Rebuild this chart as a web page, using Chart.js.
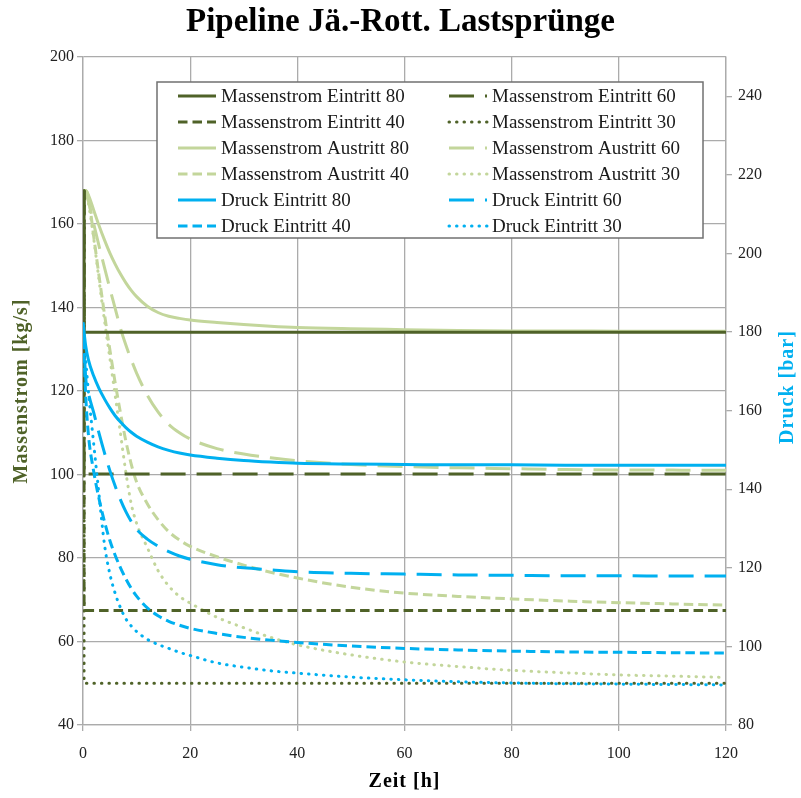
<!DOCTYPE html>
<html>
<head>
<meta charset="utf-8">
<script src="https://cdn.jsdelivr.net/npm/chart.js@4.4.0/dist/chart.umd.min.js"></script>
<style>
  html, body { margin: 0; padding: 0; background: #fff; }
  #wrap { width: 801px; height: 798px; }
</style>
</head>
<body>
<div id="wrap"><canvas id="lastspruenge"></canvas></div>
<script>
// Zeitachse [h] fuer die Austritts- und Druckkurven
const zeit = [0, 0.5, 1, 2, 3, 4, 5, 6, 7, 8, 9, 10, 12, 14, 16, 18, 20, 25, 30, 35, 40, 50, 60, 70, 80, 90, 100, 110, 120]
// Eintritt springt sofort
const zeit_sprung = [0.2, 0.2, 120]

// Massenstrom [kg/s]
const massenstrom_eintritt_80 = [168, 134.1, 134.1]
const massenstrom_eintritt_60 = [168, 100.1, 100.1]
const massenstrom_eintritt_40 = [168, 67.4, 67.4]
const massenstrom_eintritt_30 = [168, 50, 50]

const massenstrom_austritt_80 = [167.8, 168, 167, 163.3, 159.6, 156.2, 153.1, 150.4, 148, 145.9, 144.1, 142.6, 140.3, 138.8, 137.9, 137.4, 137, 136.4, 135.9, 135.5, 135.2, 134.9, 134.7, 134.5, 134.4, 134.4, 134.3, 134.3, 134.3]
const massenstrom_austritt_60 = [168, 167.3, 165.5, 160, 154.7, 149.6, 144.6, 139.8, 135, 131, 127.5, 124.3, 119, 115, 112, 110, 108.5, 106.2, 104.9, 104, 103.3, 102.4, 101.9, 101.6, 101.4, 101.2, 101.1, 101.05, 101]
const massenstrom_austritt_40 = [168, 168, 166.5, 157, 147.5, 138.5, 130, 122, 114.7, 108, 102.5, 98.2, 93, 89.2, 86.3, 84.3, 82.8, 80.3, 78.3, 76.6, 75.2, 73, 71.6, 70.8, 70.2, 69.7, 69.3, 69, 68.7]
const massenstrom_austritt_30 = [168, 167.5, 165, 156.5, 146.5, 137, 128, 119, 109.8, 100.5, 93, 88.3, 82.5, 77, 73.3, 70.8, 69.2, 65.8, 63.3, 61, 59.2, 56.8, 55.1, 54, 53.1, 52.5, 52, 51.7, 51.4]

// Druck [bar]
const druck_eintritt_80 = [182.5, 176.5, 173, 168.8, 165.6, 163, 160.7, 158.7, 157.1, 155.7, 154.5, 153.5, 152, 150.8, 149.9, 149.2, 148.7, 147.9, 147.3, 146.9, 146.6, 146.4, 146.3, 146.2, 146.2, 146.1, 146.1, 146.1, 146.1]
const druck_eintritt_60 = [182, 168.5, 164.5, 159.5, 154.2, 149.3, 144.8, 140.8, 137.3, 134.3, 131.8, 129.8, 127.3, 125.5, 124.1, 123, 122.2, 120.8, 120, 119.5, 119, 118.6, 118.4, 118.2, 118.1, 118, 118, 117.9, 117.9]
const druck_eintritt_40 = [182, 164, 154, 144.5, 137.5, 131.8, 127, 123.2, 120, 117.2, 114.8, 112.8, 109.8, 107.8, 106.4, 105.4, 104.6, 103.3, 102.3, 101.6, 101, 100.1, 99.5, 99.1, 98.8, 98.6, 98.5, 98.4, 98.3]
const druck_eintritt_30 = [182, 173, 165, 151.5, 138.5, 126, 118.5, 113.5, 109.8, 107, 105.2, 103.8, 101.8, 100.5, 99.5, 98.5, 97.7, 95.8, 94.7, 93.8, 93.2, 92.2, 91.5, 91, 90.7, 90.5, 90.4, 90.3, 90.2]

const farbe_eintritt = '#4f6228'
const farbe_austritt = '#c3d69b'
const farbe_druck = '#00b0f0'
const schrift = '"Liberation Serif", "Times New Roman", serif'
const gitter_farbe = '#ababab'

// Strichmuster je Laststufe
const strich = {
    80: [],
    60: [25, 11],
    40: [9.5, 5],
    30: [0.5, 7],
}

const mach_datensatz = (label, xs, ys, farbe, stufe, achse, reihenfolge, glatt) => ({
    label: label,
    data: xs.map((x, i) => ({x: x, y: ys[i]})),
    borderColor: farbe,
    backgroundColor: farbe,
    borderWidth: 3,
    borderDash: strich[stufe],
    borderCapStyle: stufe === 30 ? 'round' : 'butt',
    pointRadius: 0,
    pointHoverRadius: 0,
    yAxisID: achse,
    order: reihenfolge,
    tension: 0,
    cubicInterpolationMode: glatt ? 'monotone' : 'default',
})

const datensaetze = [
    mach_datensatz('Massenstrom Eintritt 80', zeit_sprung, massenstrom_eintritt_80, farbe_eintritt, 80, 'y', 2, false),
    mach_datensatz('Massenstrom Eintritt 60', zeit_sprung, massenstrom_eintritt_60, farbe_eintritt, 60, 'y', 2, false),
    mach_datensatz('Massenstrom Eintritt 40', zeit_sprung, massenstrom_eintritt_40, farbe_eintritt, 40, 'y', 2, false),
    mach_datensatz('Massenstrom Eintritt 30', zeit_sprung, massenstrom_eintritt_30, farbe_eintritt, 30, 'y', 2, false),
    mach_datensatz('Massenstrom Austritt 80', zeit, massenstrom_austritt_80, farbe_austritt, 80, 'y', 3, true),
    mach_datensatz('Massenstrom Austritt 60', zeit, massenstrom_austritt_60, farbe_austritt, 60, 'y', 3, true),
    mach_datensatz('Massenstrom Austritt 40', zeit, massenstrom_austritt_40, farbe_austritt, 40, 'y', 3, true),
    mach_datensatz('Massenstrom Austritt 30', zeit, massenstrom_austritt_30, farbe_austritt, 30, 'y', 3, true),
    mach_datensatz('Druck Eintritt 80', zeit, druck_eintritt_80, farbe_druck, 80, 'y2', 1, true),
    mach_datensatz('Druck Eintritt 60', zeit, druck_eintritt_60, farbe_druck, 60, 'y2', 1, true),
    mach_datensatz('Druck Eintritt 40', zeit, druck_eintritt_40, farbe_druck, 40, 'y2', 1, true),
    mach_datensatz('Druck Eintritt 30', zeit, druck_eintritt_30, farbe_druck, 30, 'y2', 1, true),
]

// Legende als Kasten im Diagramm, 2 Spalten
const legende_kasten = {
    id: 'legende_kasten',
    afterDatasetsDraw(chart) {
        const ctx = chart.ctx
        const ca = chart.chartArea
        const links = ca.left + 74
        const oben = ca.top + 25
        ctx.save()
        ctx.fillStyle = '#fff'
        ctx.fillRect(links, oben, 546, 156)
        ctx.strokeStyle = '#707070'
        ctx.lineWidth = 1.5
        ctx.strokeRect(links, oben, 546, 156)
        ctx.font = `19px ${schrift}`
        ctx.textBaseline = 'middle'
        ctx.fillStyle = '#1a1a1a'
        chart.data.datasets.forEach((ds, i) => {
            const spalte = i % 2
            const zeile = Math.floor(i / 2)
            const y = oben + 14 + zeile * 26
            const x0 = spalte === 0 ? links + 21 : links + 292
            ctx.save()
            ctx.strokeStyle = ds.borderColor
            ctx.lineWidth = ds.borderWidth
            ctx.lineCap = ds.borderCapStyle
            ctx.setLineDash(ds.borderDash)
            ctx.beginPath()
            ctx.moveTo(x0, y)
            ctx.lineTo(x0 + 38, y)
            ctx.stroke()
            ctx.restore()
            ctx.fillText(ds.label, x0 + 43, y + 1)
        })
        ctx.restore()
    }
}

// Achsentitel selbst zeichnen (rechts von unten nach oben gelesen)
const achsen_titel = {
    id: 'achsen_titel',
    afterDraw(chart) {
        const ctx = chart.ctx
        const ca = chart.chartArea
        const mitte_y = (ca.top + ca.bottom) / 2
        ctx.save()
        ctx.font = `bold 20px ${schrift}`
        ctx.letterSpacing = '1px'
        ctx.textAlign = 'center'
        ctx.textBaseline = 'middle'

        ctx.save()
        ctx.fillStyle = farbe_eintritt
        ctx.translate(22, mitte_y)
        ctx.rotate(-Math.PI / 2)
        ctx.fillText('Massenstrom [kg/s]', 0, 0)
        ctx.restore()

        ctx.save()
        ctx.fillStyle = farbe_druck
        ctx.translate(788, mitte_y - 4)
        ctx.rotate(-Math.PI / 2)
        ctx.fillText('Druck [bar]', 0, 0)
        ctx.restore()

        ctx.fillStyle = '#000'
        ctx.fillText('Zeit [h]', (ca.left + ca.right) / 2, 782)
        ctx.restore()
    }
}

const tick_schrift = {family: schrift, size: 16}

const config = {
    type: 'line',
    data: {
        datasets: datensaetze
    },
    options: {
        responsive: true,
        maintainAspectRatio: false,
        animation: false,
        layout: {padding: 0},
        scales: {
            x: {
                type: 'linear',
                min: 0,
                max: 120,
                ticks: {stepSize: 20, font: tick_schrift, color: '#222', padding: 13, maxRotation: 0},
                grid: {color: gitter_farbe, lineWidth: 1.3, tickLength: 6},
                border: {color: gitter_farbe, width: 1.3},
                afterFit: (scale) => { scale.height = 73 }
            },
            y: {
                position: 'left',
                min: 40,
                max: 200,
                ticks: {stepSize: 20, font: tick_schrift, color: '#222', padding: 3},
                grid: {color: gitter_farbe, lineWidth: 1.3, tickLength: 6},
                border: {color: gitter_farbe, width: 1.3},
                afterFit: (scale) => { scale.width = 83 }
            },
            y2: {
                position: 'right',
                min: 80,
                max: 250,
                ticks: {stepSize: 20, font: tick_schrift, color: '#222', padding: 6, includeBounds: false},
                grid: {drawOnChartArea: false, color: gitter_farbe, lineWidth: 1.3, tickLength: 6},
                border: {color: gitter_farbe, width: 1.3},
                afterFit: (scale) => { scale.width = 75 }
            }
        },
        plugins: {
            legend: {display: false},
            tooltip: {enabled: false},
            title: {
                display: true,
                text: 'Pipeline Jä.-Rott. Lastsprünge',
                color: '#000',
                font: {family: schrift, size: 33, weight: 'bold', lineHeight: 1.2},
                padding: {top: 3, bottom: 14.4}
            }
        }
    },
    plugins: [legende_kasten, achsen_titel]
}

new Chart(document.getElementById('lastspruenge'), config)
</script>
</body>
</html>
